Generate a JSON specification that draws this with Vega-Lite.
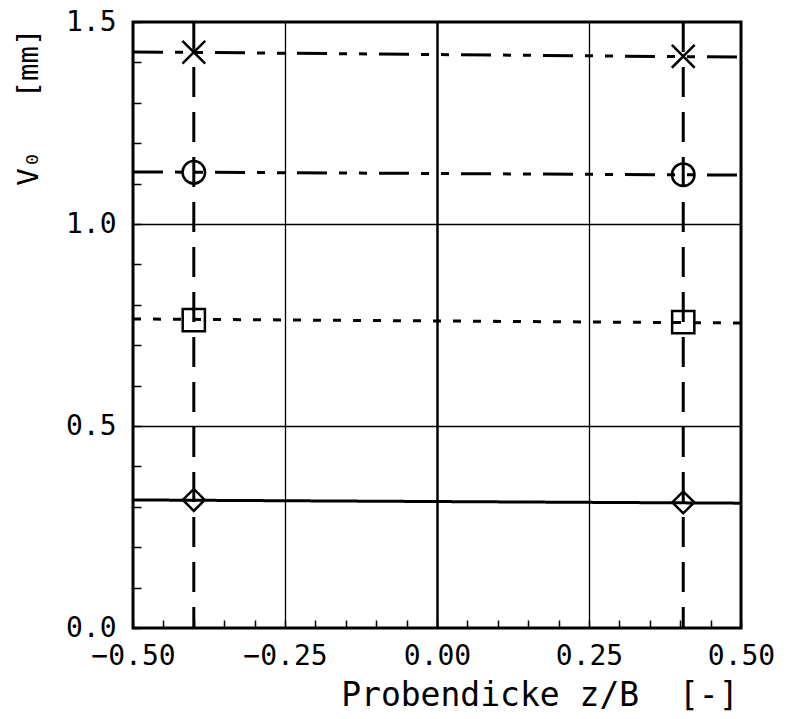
{
  "$schema": "https://vega.github.io/schema/vega-lite/v6.json",
  "width": 608,
  "height": 606,
  "autosize": "none",
  "padding": {"left": 133, "top": 22, "right": 59, "bottom": 91},
  "background": "white",
  "config": {
    "view": {"stroke": "black", "strokeWidth": 3},
    "font": "DejaVu Sans Mono"
  },
  "datasets": {
    "pts": [
      {"series": "star", "z": -0.40, "v": 1.425},
      {"series": "star", "z": 0.405, "v": 1.415},
      {"series": "circle", "z": -0.40, "v": 1.128},
      {"series": "circle", "z": 0.405, "v": 1.122},
      {"series": "square", "z": -0.40, "v": 0.762},
      {"series": "square", "z": 0.405, "v": 0.757},
      {"series": "diamond", "z": -0.40, "v": 0.317},
      {"series": "diamond", "z": 0.405, "v": 0.311}
    ],
    "fits": [
      {"series": "star", "z": -0.5, "v": 1.426},
      {"series": "star", "z": 0.5, "v": 1.413},
      {"series": "circle", "z": -0.5, "v": 1.129},
      {"series": "circle", "z": 0.5, "v": 1.121},
      {"series": "square", "z": -0.5, "v": 0.765},
      {"series": "square", "z": 0.5, "v": 0.755},
      {"series": "diamond", "z": -0.5, "v": 0.317},
      {"series": "diamond", "z": 0.5, "v": 0.309}
    ],
    "verts": [{"z": -0.40}, {"z": 0.405}]
  },
  "encoding": {
    "x": {
      "field": "z", "type": "quantitative",
      "scale": {"domain": [-0.5, 0.5], "nice": false, "zero": false},
      "axis": {
        "values": [-0.5, -0.45, -0.4, -0.35, -0.3, -0.25, -0.2, -0.15, -0.1, -0.05, 0, 0.05, 0.1, 0.15, 0.2, 0.25, 0.3, 0.35, 0.4, 0.45, 0.5],
        "labelExpr": "abs(datum.value*4 - round(datum.value*4)) < 0.001 ? format(datum.value, '.2f') : ''",
        "labelOverlap": false,
        "labelFlush": false,
        "labelFontSize": 28,
        "labelColor": "black",
        "labelPadding": 22,
        "labelDx": 12,
        "domain": false,
        "tickSize": -8,
        "tickColor": "black",
        "tickWidth": 1.5,
        "grid": true,
        "gridColor": "black",
        "gridOpacity": {"condition": {"test": "abs(datum.value*4 - round(datum.value*4)) < 0.001 && abs(datum.value) < 0.49", "value": 1}, "value": 0},
        "gridWidth": {"condition": {"test": "abs(datum.value) < 0.001", "value": 2.5}, "value": 1.3},
        "title": "Probendicke z/B\u00a0\u00a0[-]",
        "titleFontSize": 33,
        "titleFontWeight": "normal",
        "titleColor": "black",
        "titleAlign": "right",
        "titleBaseline": "alphabetic",
        "titleX": 605,
        "titleY": 77
      }
    }
  },
  "layer": [
    {
      "data": {"name": "fits"},
      "mark": {"type": "line", "color": "black", "strokeWidth": 3, "clip": true},
      "encoding": {
        "y": {
          "field": "v", "type": "quantitative",
          "scale": {"domain": [0, 1.5], "nice": false, "zero": false},
          "axis": {
            "values": [0, 0.1, 0.2, 0.3, 0.4, 0.5, 0.6, 0.7, 0.8, 0.9, 1.0, 1.1, 1.2, 1.3, 1.4, 1.5],
            "labelExpr": "abs(datum.value*2 - round(datum.value*2)) < 0.001 ? format(datum.value, '.1f') : ''",
            "labelOverlap": false,
            "labelFlush": false,
            "labelFontSize": 28,
            "labelColor": "black",
            "labelPadding": 25,
            "domain": false,
            "tickSize": -8,
            "tickColor": "black",
            "tickWidth": 1.5,
            "grid": true,
            "gridColor": "black",
            "gridOpacity": {"condition": {"test": "abs(datum.value*2 - round(datum.value*2)) < 0.001 && datum.value > 0.01 && datum.value < 1.49", "value": 1}, "value": 0},
            "gridWidth": 1.3,
            "title": "V₀\u00a0\u00a0\u00a0[mm]",
            "titleFontSize": 29,
            "titleFontWeight": "normal",
            "titleColor": "black",
            "titleAngle": -90,
            "titleAlign": "right",
            "titleBaseline": "middle",
            "titleX": -105,
            "titleY": 6
          }
        },
        "detail": {"field": "series"},
        "strokeDash": {
          "field": "series", "type": "nominal",
          "scale": {"domain": ["star", "circle", "square", "diamond"], "range": [[30, 12, 8, 12, 8, 12], [30, 12, 8, 12, 8, 12], [8, 12], [1, 0]]},
          "legend": null
        }
      }
    },
    {
      "data": {"name": "verts"},
      "mark": {"type": "rule", "color": "black", "strokeWidth": 3, "strokeDash": [30, 15]},
      "encoding": {}
    },
    {
      "data": {"name": "pts"},
      "mark": {"type": "point", "filled": false, "color": "black", "strokeWidth": 2.5, "opacity": 1},
      "encoding": {
        "y": {
          "field": "v", "type": "quantitative",
          "scale": {"domain": [0, 1.5], "nice": false, "zero": false},
          "axis": {
            "values": [0, 0.1, 0.2, 0.3, 0.4, 0.5, 0.6, 0.7, 0.8, 0.9, 1.0, 1.1, 1.2, 1.3, 1.4, 1.5],
            "labelExpr": "abs(datum.value*2 - round(datum.value*2)) < 0.001 ? format(datum.value, '.1f') : ''",
            "labelOverlap": false,
            "labelFlush": false,
            "labelFontSize": 28,
            "labelColor": "black",
            "labelPadding": 25,
            "domain": false,
            "tickSize": -8,
            "tickColor": "black",
            "tickWidth": 1.5,
            "grid": true,
            "gridColor": "black",
            "gridOpacity": {"condition": {"test": "abs(datum.value*2 - round(datum.value*2)) < 0.001 && datum.value > 0.01 && datum.value < 1.49", "value": 1}, "value": 0},
            "gridWidth": 1.3,
            "title": "V₀\u00a0\u00a0\u00a0[mm]",
            "titleFontSize": 29,
            "titleFontWeight": "normal",
            "titleColor": "black",
            "titleAngle": -90,
            "titleAlign": "right",
            "titleBaseline": "middle",
            "titleX": -105,
            "titleY": 6
          }
        },
        "shape": {
          "field": "series", "type": "nominal",
          "scale": {"domain": ["star", "circle", "square", "diamond"], "range": ["M-1,-1L1,1M1,-1L-1,1", "circle", "square", "diamond"]},
          "legend": null
        },
        "size": {
          "field": "series", "type": "nominal",
          "scale": {"domain": ["star", "circle", "square", "diamond"], "range": [520, 480, 440, 400]},
          "legend": null
        }
      }
    }
  ]
}
